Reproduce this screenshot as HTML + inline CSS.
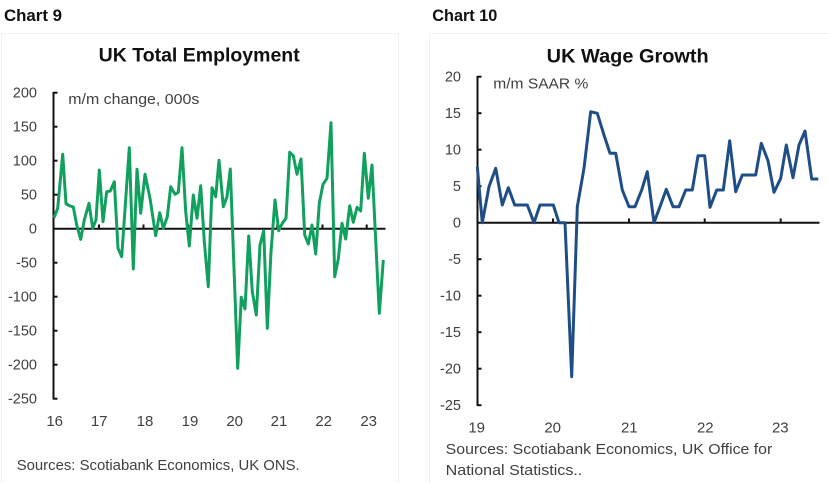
<!DOCTYPE html>
<html>
<head>
<meta charset="utf-8">
<style>
  html, body { margin:0; padding:0; background:#ffffff; }
  body { width:828px; height:483px; overflow:hidden; }
  svg { display:block; }
  text { font-family: "Liberation Sans", "DejaVu Sans", sans-serif; }
</style>
</head>
<body>
<svg width="828" height="483" viewBox="0 0 828 483" xmlns="http://www.w3.org/2000/svg">
  <rect x="0" y="0" width="828" height="483" fill="#ffffff"/>
  <!-- faint panel borders -->
  <path d="M1.5 483 V33.5 H398.5 V483" fill="none" stroke="#f1f1f1" stroke-width="1"/>
  <path d="M429.5 483 V33.5 H828" fill="none" stroke="#f1f1f1" stroke-width="1"/>

  <!-- ================= LEFT CHART ================= -->
  <text x="4" y="21" font-size="16.5" font-weight="bold" fill="#111" textLength="58" lengthAdjust="spacingAndGlyphs">Chart 9</text>
  <text x="98.7" y="61.7" font-size="19" font-weight="bold" fill="#111" textLength="201" lengthAdjust="spacingAndGlyphs">UK Total Employment</text>
  <text x="68.3" y="104" font-size="14.5" fill="#404040" textLength="131" lengthAdjust="spacingAndGlyphs">m/m change, 000s</text>

  <!-- y tick labels -->
  <g font-size="14.5" fill="#404040" text-anchor="end">
    <text x="37" y="97.7">200</text>
    <text x="37" y="131.7">150</text>
    <text x="37" y="165.7">100</text>
    <text x="37" y="199.7">50</text>
    <text x="37" y="233.7">0</text>
    <text x="37" y="267.7">-50</text>
    <text x="37" y="301.7">-100</text>
    <text x="37" y="335.7">-150</text>
    <text x="37" y="369.7">-200</text>
    <text x="37" y="403.7">-250</text>
  </g>
  <!-- x tick labels -->
  <g font-size="15" fill="#404040" text-anchor="middle">
    <text x="54.7" y="426">16</text>
    <text x="99.2" y="426">17</text>
    <text x="145" y="426">18</text>
    <text x="190" y="426">19</text>
    <text x="234.7" y="426">20</text>
    <text x="279" y="426">21</text>
    <text x="323.7" y="426">22</text>
    <text x="368.7" y="426">23</text>
  </g>

  <!-- axes -->
  <g stroke="#111" stroke-width="2" fill="none">
    <line x1="53.5" y1="92" x2="53.5" y2="399.5"/>
    <line x1="53.5" y1="92.7" x2="57.5" y2="92.7"/>
    <line x1="53.5" y1="126.7" x2="57.5" y2="126.7"/>
    <line x1="53.5" y1="160.7" x2="57.5" y2="160.7"/>
    <line x1="53.5" y1="194.7" x2="57.5" y2="194.7"/>
    <line x1="53.5" y1="262.7" x2="57.5" y2="262.7"/>
    <line x1="53.5" y1="296.7" x2="57.5" y2="296.7"/>
    <line x1="53.5" y1="330.7" x2="57.5" y2="330.7"/>
    <line x1="53.5" y1="364.7" x2="57.5" y2="364.7"/>
    <line x1="53.5" y1="398.7" x2="57.5" y2="398.7"/>
    <line x1="53.5" y1="228.7" x2="385.5" y2="228.7"/>
    <line x1="99" y1="224.5" x2="99" y2="228.7"/>
    <line x1="143.5" y1="224.5" x2="143.5" y2="228.7"/>
    <line x1="188.2" y1="224.5" x2="188.2" y2="228.7"/>
    <line x1="232.7" y1="224.5" x2="232.7" y2="228.7"/>
    <line x1="277.2" y1="224.5" x2="277.2" y2="228.7"/>
    <line x1="322.5" y1="224.5" x2="322.5" y2="228.7"/>
    <line x1="366.7" y1="224.5" x2="366.7" y2="228.7"/>
  </g>

  <!-- green series -->
  <polyline fill="none" stroke="#12a05e" stroke-width="3" stroke-linejoin="round" stroke-linecap="butt"
    points="54.0,217.7 57.7,208.3 62.7,154.3 66.0,203.7 69.3,205.7 73.3,207.0 76.7,225.0 80.7,239.3 84.3,220.0 89.0,203.3 92.7,228.3 96.0,220.0 99.3,170.0 103.0,221.7 106.7,191.7 110.3,191.0 114.3,181.7 118.0,248.3 121.7,256.7 129.3,147.7 133.3,269.0 137.0,169.3 140.7,213.3 145.0,174.3 150.0,198.3 155.7,235.7 159.7,212.7 163.3,228.3 167.3,216.7 170.7,186.7 175.0,194.3 178.3,192.3 182.0,147.7 185.7,211.7 189.3,246.0 193.3,195.0 197.0,218.3 200.7,185.7 204.3,241.7 208.3,286.7 212.0,187.7 215.7,196.7 219.0,160.3 223.3,206.7 227.0,196.7 230.3,169.0 237.7,368.3 241.3,297.3 245.0,309.0 248.7,236.0 252.3,291.7 256.3,315.0 260.0,245.0 263.7,230.7 267.3,328.3 271.0,251.7 275.0,200.0 278.7,230.7 282.3,223.3 286.0,218.3 289.7,152.3 293.3,155.7 297.0,174.3 301.0,159.0 304.7,235.0 308.3,244.0 312.0,225.0 315.7,254.0 319.3,203.3 323.0,184.3 327.0,178.3 331.0,122.7 334.7,276.7 338.3,259.0 342.0,223.3 345.7,239.0 349.7,205.7 353.3,222.3 357.0,207.3 360.7,211.0 364.3,153.3 368.3,198.3 372.0,165.0 379.3,313.3 383.3,260.0"/>

  <text x="16.7" y="470" font-size="15" fill="#404040" textLength="283" lengthAdjust="spacingAndGlyphs">Sources: Scotiabank Economics, UK ONS.</text>

  <!-- ================= RIGHT CHART ================= -->
  <text x="432.3" y="21" font-size="16.5" font-weight="bold" fill="#111" textLength="65" lengthAdjust="spacingAndGlyphs">Chart 10</text>
  <text x="546.7" y="62.5" font-size="19.5" font-weight="bold" fill="#111" textLength="162" lengthAdjust="spacingAndGlyphs">UK Wage Growth</text>
  <text x="493.3" y="88.3" font-size="14.5" fill="#404040" textLength="95" lengthAdjust="spacingAndGlyphs">m/m SAAR %</text>

  <g font-size="14.5" fill="#404040" text-anchor="end">
    <text x="461" y="81.7">20</text>
    <text x="461" y="118.2">15</text>
    <text x="461" y="154.7">10</text>
    <text x="461" y="191.2">5</text>
    <text x="461" y="227.7">0</text>
    <text x="461" y="264.2">-5</text>
    <text x="461" y="300.7">-10</text>
    <text x="461" y="337.2">-15</text>
    <text x="461" y="373.7">-20</text>
    <text x="461" y="410.2">-25</text>
  </g>
  <g font-size="15" fill="#404040" text-anchor="middle">
    <text x="476.7" y="432.7">19</text>
    <text x="552.7" y="432.7">20</text>
    <text x="629.3" y="432.7">21</text>
    <text x="705.3" y="432.7">22</text>
    <text x="780.3" y="432.7">23</text>
  </g>

  <g stroke="#111" stroke-width="2" fill="none">
    <line x1="477.5" y1="76" x2="477.5" y2="406"/>
    <line x1="477.5" y1="76.7" x2="481.5" y2="76.7"/>
    <line x1="477.5" y1="113.2" x2="481.5" y2="113.2"/>
    <line x1="477.5" y1="149.7" x2="481.5" y2="149.7"/>
    <line x1="477.5" y1="186.2" x2="481.5" y2="186.2"/>
    <line x1="477.5" y1="259.2" x2="481.5" y2="259.2"/>
    <line x1="477.5" y1="295.7" x2="481.5" y2="295.7"/>
    <line x1="477.5" y1="332.2" x2="481.5" y2="332.2"/>
    <line x1="477.5" y1="368.7" x2="481.5" y2="368.7"/>
    <line x1="477.5" y1="405.2" x2="481.5" y2="405.2"/>
    <line x1="477.5" y1="222.7" x2="819.5" y2="222.7"/>
    <line x1="553" y1="218.5" x2="553" y2="222.7"/>
    <line x1="629" y1="218.5" x2="629" y2="222.7"/>
    <line x1="704.7" y1="218.5" x2="704.7" y2="222.7"/>
    <line x1="780.7" y1="218.5" x2="780.7" y2="222.7"/>
  </g>

  <polyline fill="none" stroke="#1f4e87" stroke-width="3" stroke-linejoin="round" stroke-linecap="butt"
    points="477.3,166.7 482.3,222.7 489.0,186.7 495.7,168.3 502.3,205.0 508.3,187.7 514.7,205.0 520.7,205.0 527.3,205.0 534.0,222.7 540.0,205.0 546.7,205.0 553.3,205.0 559.0,222.7 565.0,222.7 571.7,376.7 577.3,206.7 584.0,168.3 590.7,111.7 597.3,113.3 604.0,135.0 610.0,153.3 615.7,153.3 622.3,190.0 629.0,206.7 635.0,206.7 641.7,190.0 647.3,171.7 654.0,222.7 660.0,206.7 666.3,189.3 673.0,206.7 679.0,206.7 685.7,190.0 692.3,190.0 698.0,155.7 704.7,155.7 710.0,207.3 716.7,190.0 723.3,190.0 729.7,140.7 735.7,191.7 742.3,175.0 749.0,175.0 755.7,175.0 761.3,143.3 768.0,160.7 774.0,192.3 780.7,178.3 786.3,145.0 793.0,177.7 799.0,145.0 805.0,131.0 811.7,179.0 818.3,179.0"/>

  <text x="445.7" y="454" font-size="15" fill="#404040" textLength="326.6" lengthAdjust="spacingAndGlyphs">Sources: Scotiabank Economics, UK Office for</text>
  <text x="445.7" y="475" font-size="15" fill="#404040" textLength="136.6" lengthAdjust="spacingAndGlyphs">National Statistics..</text>
</svg>
</body>
</html>
